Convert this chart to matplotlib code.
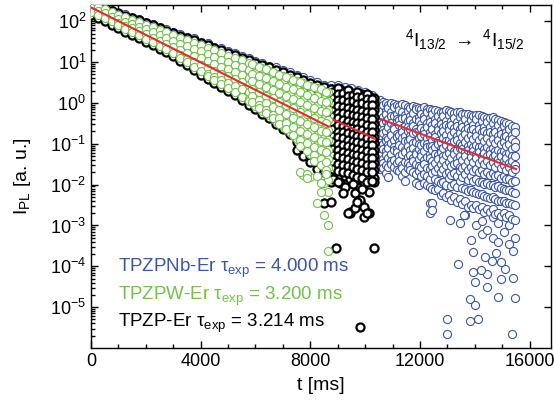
import numpy as np
import matplotlib
matplotlib.use('Agg')
import matplotlib.pyplot as plt
from matplotlib.ticker import FixedLocator, LogLocator, MultipleLocator, LogFormatterSciNotation, NullFormatter

plt.rcParams['font.family'] = ['Liberation Sans', 'DejaVu Sans']
plt.rcParams['mathtext.fontset'] = 'custom'
plt.rcParams['mathtext.rm'] = 'Liberation Sans'
plt.rcParams['mathtext.it'] = 'Liberation Sans:italic'
plt.rcParams['mathtext.default'] = 'regular'

# ---- data (log10 of I_PL, one list per time column) ----
# TPZPNb-Er (blue): early part, only the upper edge shows above the other sets
t_blue = [0, 250, 500, 750, 1000, 1250, 1500, 1750, 2000, 2250, 2500, 2750, 3000, 3250,
          3500, 3750, 4000, 4250, 4500, 4750, 5000, 5250, 5500, 5750, 6000, 6250, 6500,
          6750, 7000, 7250, 7500, 7750, 8000, 8250, 8500, 8750, 9000, 9250, 9500, 9750,
          10000, 10250]
logI_blue = [
    [2.45, 2.35], [2.40, 2.30], [2.33, 2.22], [2.28, 2.17], [2.21, 2.11], [2.17, 2.05],
    [2.10, 1.99], [2.05, 1.93], [1.97, 1.87], [1.93, 1.81], [1.86, 1.75], [1.81, 1.69],
    [1.74, 1.63], [1.70, 1.57], [1.62, 1.52], [1.58, 1.46], [1.50, 1.40], [1.46, 1.34],
    [1.38, 1.28], [1.34, 1.22], [1.27, 1.16], [1.23, 1.10], [1.15, 1.05], [1.11, 0.99],
    [1.03, 0.93], [0.99, 0.87], [0.91, 0.81], [0.88, 0.75], [0.80, 0.69], [0.76, 0.63],
    [0.68, 0.57], [0.64, 0.51], [0.56, 0.45], [0.52, 0.39], [0.45, 0.33], [0.45, 0.36],
    [0.44, 0.33], [0.40, 0.30], [0.36, 0.26], [0.32, 0.22], [0.27, 0.17], [0.20, 0.10],
]
# TPZPNb-Er tail beyond the other sets
t_blue_tail = [10450, 10550, 10650, 10750, 10850, 10950, 11050, 11150, 11250, 11350, 11450,
               11550, 11650, 11750, 11850, 11950, 12050, 12150, 12250, 12350, 12450, 12550,
               12650, 12750, 12850, 12950, 13050, 13150, 13250, 13350, 13450, 13550, 13650,
               13750, 13850, 13950, 14050, 14150, 14250, 14350, 14450, 14550, 14650, 14750,
               14850, 14950, 15050, 15150, 15250, 15350, 15450]
logI_blue_tail = [
    [0.05, -0.08, -0.30, -0.38, -0.61, -0.70, -0.92, -1.15, -1.22, -1.45, -1.55],
    [0.08, -0.15, -0.22, -0.47, -0.55, -0.81, -0.98, -1.06, -1.30, -1.62],
    [0.02, -0.06, -0.35, -0.50, -0.66, -0.74, -1.01, -1.13, -1.37, -1.48, -1.60],
    [-0.01, -0.20, -0.28, -0.43, -0.69, -0.85, -0.93, -1.18, -1.27, -1.52, -1.72],
    [-0.04, -0.12, -0.39, -0.55, -0.60, -0.88, -1.04, -1.10, -1.34, -1.58, -1.82],
    [0.00, -0.23, -0.31, -0.48, -0.72, -0.79, -0.99, -1.24, -1.41, -1.50],
    [-0.02, -0.10, -0.33, -0.58, -0.64, -0.90, -1.07, -1.16, -1.39, -1.57],
    [-0.05, -0.26, -0.40, -0.47, -0.75, -0.83, -1.12, -1.21, -1.46, -1.64],
    [-0.08, -0.17, -0.42, -0.53, -0.78, -0.96, -1.02, -1.29, -1.43, -1.66],
    [-0.03, -0.21, -0.36, -0.62, -0.70, -0.87, -1.09, -1.25, -1.51, -1.60, -1.78],
    [-0.06, -0.30, -0.38, -0.57, -0.81, -0.92, -1.14, -1.20, -1.44, -1.70, -1.90],
    [-0.10, -0.19, -0.45, -0.60, -0.68, -0.94, -1.05, -1.32, -1.48, -1.59],
    [-0.12, -0.33, -0.41, -0.65, -0.80, -0.89, -1.16, -1.27, -1.53, -1.63],
    [-0.07, -0.24, -0.49, -0.56, -0.74, -0.98, -1.10, -1.36, -1.42, -1.68],
    [-0.10, -0.16, -0.40, -0.63, -0.71, -0.95, -1.19, -1.26, -1.50, -1.75, -1.95],
    [-0.13, -0.35, -0.44, -0.69, -0.86, -1.01, -1.13, -1.38, -1.55, -1.66, -2.02],
    [-0.16, -0.27, -0.52, -0.61, -0.82, -1.03, -1.22, -1.30, -1.57, -1.80],
    [-0.11, -0.32, -0.39, -0.66, -0.77, -0.97, -1.17, -1.40, -1.49, -1.74, -1.96],
    [-0.14, -0.23, -0.50, -0.58, -0.85, -1.00, -1.08, -1.33, -1.59, -1.79, -2.00],
    [-0.15, -0.37, -0.46, -0.72, -0.80, -1.06, -1.26, -1.35, -1.62, -1.86, -2.05, -2.45, -2.70],
    [-0.18, -0.28, -0.55, -0.63, -0.90, -1.05, -1.15, -1.42, -1.54, -1.71, -2.10, -2.45, -2.62],
    [-0.17, -0.40, -0.48, -0.75, -0.84, -1.09, -1.24, -1.47, -1.66, -1.86, -2.12],
    [-0.20, -0.31, -0.59, -0.67, -0.92, -1.01, -1.28, -1.37, -1.60, -1.91, -2.10],
    [-0.21, -0.42, -0.51, -0.73, -0.96, -1.12, -1.20, -1.49, -1.69, -1.97, -2.25],
    [-0.22, -0.33, -0.60, -0.69, -0.87, -1.10, -1.31, -1.39, -1.62, -1.94, -2.20],
    [-0.18, -0.44, -0.55, -0.79, -0.94, -1.03, -1.28, -1.52, -1.74, -2.01, -2.31],
    [-0.19, -0.30, -0.57, -0.66, -0.90, -1.14, -1.22, -1.45, -1.70, -1.83, -2.25],
    [-0.23, -0.45, -0.53, -0.78, -0.99, -1.08, -1.34, -1.55, -1.77, -2.04, -2.37],
    [-0.25, -0.36, -0.62, -0.71, -0.92, -1.17, -1.26, -1.50, -1.72, -1.99, -2.30],
    [-0.22, -0.47, -0.56, -0.82, -0.91, -1.15, -1.38, -1.47, -1.78, -2.05, -2.43],
    [-0.23, -0.35, -0.63, -0.74, -0.97, -1.10, -1.31, -1.56, -1.67, -1.92, -2.35, -2.94],
    [-0.26, -0.48, -0.58, -0.83, -1.02, -1.12, -1.39, -1.60, -1.81, -2.09, -2.47],
    [-0.28, -0.39, -0.66, -0.76, -0.95, -1.20, -1.29, -1.54, -1.75, -2.11, -2.40, -2.75],
    [-0.27, -0.51, -0.61, -0.86, -1.05, -1.14, -1.42, -1.63, -1.88, -2.16, -2.55],
    [-0.30, -0.41, -0.67, -0.79, -1.00, -1.23, -1.33, -1.58, -1.80, -2.14, -2.50, -3.35],
    [-0.31, -0.54, -0.63, -0.88, -1.07, -1.17, -1.45, -1.66, -1.92, -2.19, -2.58],
    [-0.29, -0.40, -0.70, -0.80, -1.03, -1.26, -1.36, -1.61, -1.86, -2.21, -2.50, -3.00],
    [-0.30, -0.55, -0.64, -0.90, -1.09, -1.19, -1.47, -1.70, -1.94, -2.23, -2.60],
    [-0.33, -0.44, -0.72, -0.83, -1.05, -1.29, -1.39, -1.65, -1.93, -2.24, -2.55, -2.90, -3.20],
    [-0.35, -0.58, -0.68, -0.93, -1.12, -1.22, -1.50, -1.73, -1.98, -2.28, -2.66],
    [-0.37, -0.47, -0.74, -0.86, -1.08, -1.31, -1.42, -1.69, -1.97, -2.31, -2.60, -3.10],
    [-0.36, -0.60, -0.70, -0.95, -1.15, -1.25, -1.53, -1.76, -2.01, -2.32, -2.68],
    [-0.35, -0.48, -0.75, -0.88, -1.10, -1.33, -1.44, -1.71, -2.00, -2.31, -2.60, -2.80, -3.30],
    [-0.39, -0.63, -0.72, -0.97, -1.17, -1.27, -1.56, -1.79, -2.05, -2.36, -2.72],
    [-0.42, -0.53, -0.80, -0.91, -1.14, -1.37, -1.48, -1.76, -2.04, -2.39, -2.70, -2.95, -3.40],
    [-0.44, -0.67, -0.77, -1.01, -1.21, -1.31, -1.60, -1.83, -2.09, -2.41, -2.77],
    [-0.46, -0.57, -0.83, -0.95, -1.18, -1.41, -1.52, -1.80, -2.11, -2.39, -2.70, -3.15],
    [-0.49, -0.71, -0.82, -1.06, -1.25, -1.35, -1.64, -1.87, -2.13, -2.44, -2.80],
    [-0.52, -0.63, -0.88, -1.00, -1.23, -1.46, -1.57, -1.85, -2.14, -2.46, -2.75, -3.00, -3.45],
    [-0.56, -0.78, -0.88, -1.12, -1.31, -1.41, -1.70, -1.93, -2.18, -2.48, -2.83],
    [-0.60, -0.70, -0.95, -1.08, -1.30, -1.52, -1.62, -1.90, -2.21, -2.49, -2.86, -3.30],
]
# sparse low points of TPZPNb-Er
t_blue_low = [12970, 12970, 13810, 14100, 15370, 13810, 13990, 13370, 15480, 15410, 14940,
              14830, 14460, 13990, 14430, 14240, 13950, 15120, 15410, 13950, 14390, 14790,
              14970, 14640, 13080, 13600]
logI_blue_low = [-5.30, -5.65, -5.35, -5.28, -5.65, -4.80, -4.94, -3.94, -4.77, -4.28, -4.30,
                 -4.75, -4.50, -4.38, -4.20, -4.08, -4.13, -4.06, -3.62, -3.65, -3.76, -3.67,
                 -3.89, -3.86, -2.86, -2.75]

# TPZP-Er (black)
t_black = [0, 250, 500, 750, 1000, 1250, 1500, 1750, 2000, 2250, 2500, 2750, 3000, 3250,
           3500, 3750, 4000, 4250, 4500, 4750, 5000, 5250, 5500, 5750, 6000, 6250, 6500,
           6750, 7000, 7250, 7500, 7750, 8000, 8250, 8500,
           8750, 8925, 9100, 9275, 9450, 9625, 9800, 9975, 10150, 10325,
           8840, 9010, 9190, 9360, 9540, 9710, 9890, 10060, 10240]
logI_black = [
    [2.44, 2.33, 2.24, 2.15], [2.38, 2.26, 2.16, 2.07], [2.32, 2.20, 2.09, 2.00],
    [2.26, 2.14, 2.02, 1.92], [2.20, 2.08, 1.93, 1.83], [2.14, 2.01, 1.84, 1.74],
    [2.08, 1.95, 1.76, 1.66], [2.02, 1.89, 1.68, 1.58], [1.96, 1.83, 1.59, 1.49],
    [1.90, 1.77, 1.51, 1.41], [1.84, 1.71, 1.42, 1.32], [1.77, 1.64, 1.34, 1.24],
    [1.71, 1.58, 1.24, 1.14], [1.65, 1.52, 1.13, 1.03], [1.59, 1.46, 1.02, 0.92],
    [1.53, 1.40, 0.90, 0.80], [1.47, 1.34, 0.79, 0.69], [1.41, 1.28, 0.69, 0.59],
    [1.35, 1.22, 0.59, 0.49], [1.29, 1.16, 0.49, 0.39], [1.23, 1.10, 0.39, 0.29],
    [1.17, 1.04, 0.29, 0.19], [1.11, 0.98, 0.17, 0.07], [1.05, 0.92, 0.06, -0.04],
    [0.99, 0.86, -0.06, -0.16], [0.93, 0.80, -0.17, -0.27], [0.87, 0.74, -0.28, -0.38],
    [0.81, 0.68, -0.41, -0.51], [0.75, 0.62, -0.54, -0.64], [0.69, 0.56, -0.67, -0.77],
    [0.63, 0.50, -0.85, -0.95, -1.15], [0.56, 0.43, -1.00, -1.10, -1.30],
    [0.50, 0.37, -1.20, -1.30, -1.45], [0.44, 0.31, -1.35, -1.45, -1.62],
    [0.38, 0.25, -1.50, -1.60, -1.70, -2.44],
    [0.34, 0.19, 0.06, -0.11, -0.23, -0.41, -0.56, -0.68, -0.87, -1.01, -1.17, -1.30, -1.52, -1.68, -1.93, -2.42],
    [0.30, 0.17, 0.01, -0.14, -0.29, -0.44, -0.58, -0.75, -0.90, -1.06, -1.20, -1.37, -1.55, -1.72, -3.55],
    [0.33, 0.14, -0.02, -0.18, -0.31, -0.47, -0.63, -0.79, -0.93, -1.08, -1.25, -1.41, -1.58, -1.80, -1.95],
    [0.27, 0.12, -0.04, -0.19, -0.36, -0.50, -0.66, -0.81, -0.98, -1.13, -1.28, -1.45, -1.62, -1.78, -2.05],
    [0.25, 0.10, -0.07, -0.23, -0.37, -0.54, -0.69, -0.85, -1.00, -1.16, -1.31, -1.48, -1.66, -1.85, -2.66, -2.70],
    [0.23, 0.08, -0.09, -0.24, -0.40, -0.57, -0.71, -0.88, -1.04, -1.19, -1.36, -1.52, -1.69, -1.93, -2.20, -2.58],
    [0.21, 0.05, -0.11, -0.27, -0.43, -0.58, -0.75, -0.91, -1.07, -1.22, -1.39, -1.55, -1.73, -2.05, -2.42, -2.37, -5.48],
    [0.19, 0.03, -0.14, -0.30, -0.45, -0.62, -0.78, -0.93, -1.10, -1.26, -1.42, -1.58, -1.76, -1.95, -2.54, -2.79],
    [0.16, 0.01, -0.16, -0.32, -0.48, -0.64, -0.81, -0.97, -1.13, -1.29, -1.45, -1.62, -1.80, -2.18, -2.70],
    [0.13, -0.02, -0.18, -0.35, -0.51, -0.67, -0.83, -0.99, -1.15, -1.31, -1.48, -1.65, -1.83, -1.93, -3.55],
    [0.28, 0.12, -0.03, -0.19, -0.33, -0.49, -0.64, -0.80, -0.95, -1.12, -1.27, -1.44, -1.62, -1.85],
    [0.36, 0.22, 0.07, -0.08, -0.24, -0.38, -0.53, -0.70, -0.84, -1.00, -1.14, -1.31, -1.49, -1.66, -1.93],
    [0.24, 0.08, -0.09, -0.25, -0.41, -0.56, -0.71, -0.87, -1.03, -1.19, -1.35, -1.51, -1.70, -2.20],
    [0.31, 0.18, 0.03, -0.12, -0.28, -0.44, -0.60, -0.74, -0.90, -1.06, -1.22, -1.38, -1.55, -1.72, -2.70],
    [0.20, 0.04, -0.14, -0.30, -0.46, -0.62, -0.77, -0.93, -1.09, -1.25, -1.41, -1.58, -1.76, -1.98],
    [0.26, 0.14, -0.02, -0.17, -0.33, -0.49, -0.64, -0.80, -0.96, -1.12, -1.28, -1.45, -1.62, -1.82, -2.42],
    [0.15, 0.00, -0.19, -0.35, -0.50, -0.66, -0.82, -0.98, -1.14, -1.30, -1.47, -1.64, -1.84, -2.10],
    [0.22, 0.10, -0.06, -0.22, -0.38, -0.54, -0.70, -0.86, -1.02, -1.18, -1.34, -1.51, -1.70, -1.93, -2.70],
    [0.10, -0.06, -0.23, -0.40, -0.56, -0.72, -0.88, -1.04, -1.20, -1.36, -1.52, -1.70, -1.90],
]

# TPZPW-Er (green)
t_green = [0, 250, 500, 750, 1000, 1250, 1500, 1750, 2000, 2250, 2500, 2750, 3000, 3250,
           3500, 3750, 4000, 4250, 4500, 4750, 5000, 5250, 5500, 5750, 6000, 6250, 6500,
           6750, 7000, 7250, 7500, 7750, 8000, 8250, 8500, 8650,
           5875, 6125, 6375, 6625, 6875, 7125, 7375, 7625, 7875, 8125, 8375, 8575]
logI_green = [
    [2.42, 2.32, 2.23], [2.35, 2.25, 2.15], [2.29, 2.19, 2.08], [2.22, 2.11, 2.00],
    [2.16, 2.06, 1.96, 1.91], [2.10, 1.99, 1.89, 1.82], [2.04, 1.93, 1.83, 1.74],
    [1.97, 1.86, 1.75, 1.66], [1.92, 1.80, 1.68, 1.57], [1.85, 1.73, 1.60, 1.49],
    [1.79, 1.66, 1.52, 1.40], [1.73, 1.59, 1.45, 1.32], [1.66, 1.52, 1.37, 1.22],
    [1.60, 1.45, 1.29, 1.18, 1.11], [1.54, 1.39, 1.23, 1.08, 1.00],
    [1.47, 1.32, 1.16, 1.01, 0.88], [1.41, 1.26, 1.09, 0.93, 0.77],
    [1.35, 1.19, 1.02, 0.85, 0.70, 0.67], [1.29, 1.13, 0.96, 0.79, 0.63, 0.57],
    [1.22, 1.06, 0.89, 0.72, 0.55, 0.47], [1.16, 1.00, 0.83, 0.66, 0.49, 0.37],
    [1.10, 0.93, 0.76, 0.58, 0.41, 0.27], [1.04, 0.87, 0.69, 0.51, 0.33, 0.15],
    [0.97, 0.80, 0.62, 0.44, 0.26, 0.10, 0.04], [0.91, 0.74, 0.55, 0.36, 0.17, 0.01, -0.08],
    [0.85, 0.67, 0.48, 0.29, 0.10, -0.08, -0.19], [0.79, 0.61, 0.42, 0.22, 0.02, -0.16, -0.30],
    [0.72, 0.54, 0.35, 0.15, -0.06, -0.25, -0.43], [0.66, 0.48, 0.28, 0.07, -0.14, -0.35, -0.56],
    [0.60, 0.42, 0.22, 0.01, -0.21, -0.43, -0.62, -0.71],
    [0.54, 0.35, 0.14, -0.08, -0.30, -0.52, -0.73, -0.88],
    [0.48, 0.28, 0.07, -0.16, -0.39, -0.62, -0.84, -1.04, -1.76],
    [0.42, 0.22, 0.00, -0.23, -0.47, -0.71, -0.94, -1.15, -1.26, -1.82],
    [0.36, 0.16, -0.07, -0.31, -0.55, -0.79, -1.02, -1.24, -1.41, -1.78, -2.45],
    [0.30, 0.09, -0.15, -0.39, -0.63, -0.87, -1.10, -1.33, -1.56, -1.95, -2.74],
    [0.26, 0.05, -0.18, -0.42, -0.66, -0.90, -1.14, -1.38, -1.60, -1.88, -2.17, -2.98, -3.62],
    [0.95, 0.72, 0.53, 0.35, 0.17, 0.03],
    [0.88, 0.66, 0.46, 0.27, 0.08, -0.06, -0.12],
    [0.82, 0.60, 0.39, 0.18, -0.01, -0.18, -0.25],
    [0.76, 0.53, 0.31, 0.11, -0.09, -0.29, -0.38],
    [0.69, 0.47, 0.24, 0.03, -0.18, -0.38, -0.52],
    [0.63, 0.40, 0.17, -0.05, -0.27, -0.48, -0.64],
    [0.57, 0.33, 0.10, -0.13, -0.36, -0.58, -0.79],
    [0.51, 0.26, 0.03, -0.21, -0.45, -0.68, -0.90, -1.05, -1.70],
    [0.45, 0.19, -0.04, -0.28, -0.52, -0.76, -0.98, -1.18, -1.75, -1.83],
    [0.39, 0.12, -0.12, -0.36, -0.60, -0.84, -1.07, -1.28, -1.42],
    [0.33, 0.05, -0.20, -0.44, -0.68, -0.92, -1.16, -1.38, -1.53, -1.95, -2.17],
    [0.28, 0.02, -0.23, -0.48, -0.72, -0.96, -1.20, -1.44, -1.65, -1.75],
]

# single-exponential fits (end points)
fit_t_blue, fit_I_blue = [0, 15506], [170, 0.024]
fit_t_black, fit_I_black = [0, 10346], [219, 0.133]
fit_t_green, fit_I_green = [0, 8670], [219, 0.263]

names = ['TPZPNb-Er', 'TPZPW-Er', 'TPZP-Er']
taus = ['4.000', '3.200', '3.214']


def flatten(ts, cols):
    xs = [t for t, c in zip(ts, cols) for _ in c]
    ys = [10 ** v for c in cols for v in c]
    return xs, ys


c_blue = '#3b56a6'
c_green = '#72c14a'
c_black = 'black'
c_red = '#e8282a'
msize = 34

fig = plt.figure(figsize=(5.54, 4.09), dpi=100)
ax = fig.add_axes([91 / 554, 1 - 348 / 409, 460 / 554, 343 / 409])

xb, yb = flatten(t_blue + t_blue_tail, logI_blue + logI_blue_tail)
xb += t_blue_low
yb += [10 ** v for v in logI_blue_low]
ax.scatter(xb, yb, s=msize, facecolors='white', edgecolors=c_blue, linewidths=0.8, zorder=2)
ax.plot(fit_t_blue, fit_I_blue, color=c_red, lw=1.5, zorder=3)

xk, yk = flatten(t_black, logI_black)
ax.scatter(xk, yk, s=msize, facecolors='white', edgecolors=c_black, linewidths=1.6, zorder=4)
ax.plot(fit_t_black, fit_I_black, color=c_red, lw=1.5, zorder=5)

xg, yg = flatten(t_green, logI_green)
ax.scatter(xg, yg, s=msize, facecolors='white', edgecolors=c_green, linewidths=0.8, zorder=6)
ax.plot(fit_t_green, fit_I_green, color=c_red, lw=1.5, zorder=7)

ax.set_yscale('log')
ax.set_xlim(0, 16780)
ax.set_ylim(1e-6, 250)

ax.xaxis.set_major_locator(FixedLocator([0, 4000, 8000, 12000, 16000]))
ax.xaxis.set_minor_locator(MultipleLocator(1000))
ax.yaxis.set_major_locator(FixedLocator([1e-5, 1e-4, 1e-3, 1e-2, 1e-1, 1, 10, 100]))
ax.yaxis.set_major_formatter(LogFormatterSciNotation())
ax.yaxis.set_minor_locator(LogLocator(base=10, subs=np.arange(2, 10)))
ax.yaxis.set_minor_formatter(NullFormatter())

ax.tick_params(which='both', direction='in', top=True, right=True, labelsize=13, width=1.0)
ax.tick_params(which='major', length=5)
ax.tick_params(which='minor', length=3)
ax.tick_params(axis='y', which='minor', right=False)
for sp in ax.spines.values():
    sp.set_linewidth(1.0)

ax.set_xlabel('t [ms]', fontsize=14, labelpad=5)
ax.set_ylabel('I$_{PL}$ [a. u.]', fontsize=14, labelpad=12)

for name, tau, col, yy in zip(names, taus, [c_blue, c_green, c_black], [268, 296, 323]):
    ax.text(118 / 554, 1 - yy / 409, name + r' $\tau_{exp}$ = ' + tau + ' ms', color=col,
            fontsize=13.5, transform=fig.transFigure, va='center', ha='left', zorder=10)

ax.text(465 / 554, 1 - 40 / 409, r'$^{4}$I$_{13/2}$ $\rightarrow$ $^{4}$I$_{15/2}$', fontsize=14,
        transform=fig.transFigure, ha='center', va='center')

fig.savefig('out.png', dpi=100)
